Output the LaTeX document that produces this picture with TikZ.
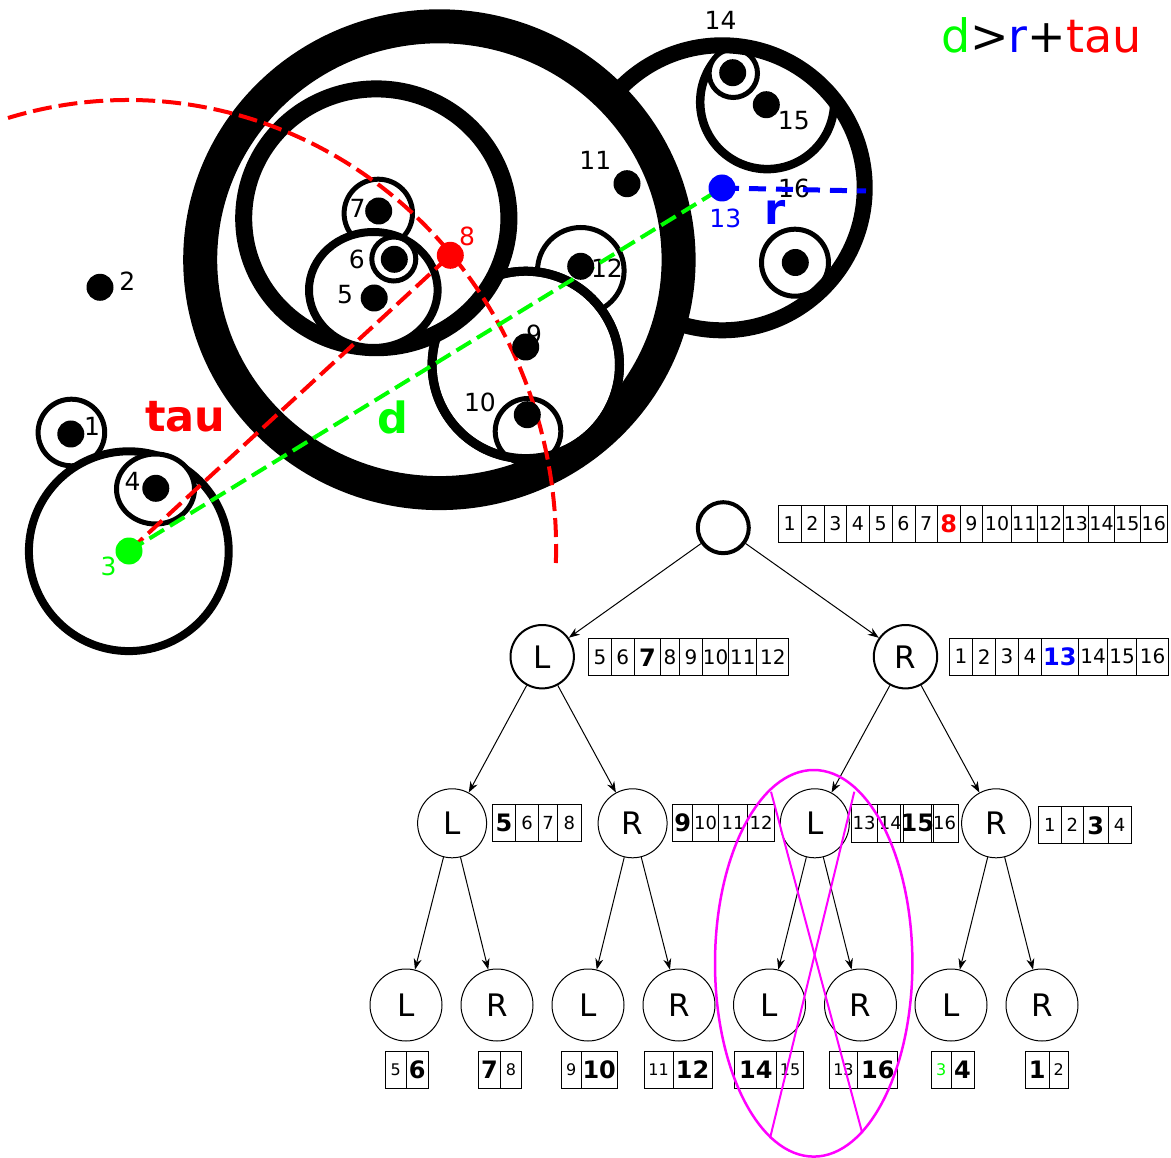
\documentclass[tikz,border=0pt]{standalone}
\usepackage{fontspec}
\setmainfont{DejaVu Sans}
\usetikzlibrary{arrows.meta}
\definecolor{pmag}{RGB}{255,0,255}
\definecolor{pgreen}{RGB}{0,255,0}
\newcommand\bd[1]{{\fontsize{24}{24}\selectfont\bfseries #1}}
\newcommand\cellarr[5]{%
  \foreach \xa/\xb/\txt [count=\ci] in {#5}{%
    \node[cell, font=\fontsize{#4}{#4}\selectfont, minimum width={(\xb-\xa)*1pt}, minimum height={#3*1pt}] (#1-\ci) at ({(\xa+\xb)/2},#2) {\txt};
  }%
}
\begin{document}
\begin{tikzpicture}[x=1pt,y=-1pt,
  lwfive/.style={line width=5pt},
  blob/.style={circle, fill=black, minimum size=27pt, inner sep=0pt},
  num/.style={inner sep=0pt, font=\fontsize{25}{25}\selectfont},
  bigtxt/.style={inner sep=0pt, font=\fontsize{43}{43}\selectfont\bfseries},
  tauline/.style={red, line width=4pt, dash pattern=on 19pt off 7pt},
  dline/.style={pgreen, line width=4pt, dash pattern=on 17pt off 7pt},
  rline/.style={blue, line width=5pt, dash pattern=on 17pt off 10pt},
  cell/.style={draw, inner sep=0pt, outer sep=0pt, line width=1pt},
  tn/.style={circle, draw, inner sep=0pt, font=\fontsize{31}{31}\selectfont},
  tedge/.style={-{Stealth[length=11pt,width=8pt]}, line width=1pt},
  mag/.style={pmag, line width=2.5pt}]
\useasboundingbox (0,0) rectangle (1171,1158);

% ---------- lower-left cluster ----------
\draw[lwfive, fill=white] (71.4,432.5) circle[radius=33.3];
\draw[line width=8pt, fill=white] (128.8,551.2) circle[radius=99.9];
\draw[lwfive, fill=white] (155.5,489) ellipse[x radius=39, y radius=35];

% ---------- right cluster ----------
\fill[white] (722.2,187.8) circle[radius=150];
\begin{scope}
  \clip (722.2,187.8) circle[radius=142.5];
  \draw[line width=8.5pt, fill=white] (767.2,102.1) circle[radius=67];
\end{scope}
\draw[lwfive, fill=white] (733.3,73.3) circle[radius=24.2];
\draw[lwfive, fill=white] (795,262.7) circle[radius=33.5];
\draw[line width=16pt] (722.2,187.8) circle[radius=142.5];

% ---------- big outer ring ----------
\draw[line width=34pt, fill=white] (439.4,259.7) ellipse[x radius=239.2, y radius=233.4];
\draw[lwfive, fill=white] (580.8,270.8) circle[radius=43.3];
\draw[line width=9pt, fill=white] (525.8,364.9) circle[radius=93.7];
\draw[lwfive, fill=white] (528,431.3) circle[radius=32.8];
\draw[line width=9pt] (525.8,364.9) circle[radius=93.7];

% ---------- inner ring ----------
\draw[line width=17pt, fill=white] (376.3,218.3) ellipse[x radius=132.6, y radius=129.4];
\draw[lwfive, fill=white] (378.3,213.4) circle[radius=34.2];
\begin{scope}
  \clip (376.3,218.3) ellipse[x radius=141, y radius=138];
  \draw[line width=8pt, fill=white] (373.3,290) ellipse[x radius=64.3, y radius=58];
\end{scope}
\draw[lwfive, fill=white] (393.8,259) circle[radius=22];

% ---------- labels ----------
\node[num] (l1) at (92,426) {1};
\node[num] (l2) at (127.3,281) {2};
\node[num, text=pgreen] (l3) at (108.7,566.7) {3};
\node[num] (l4) at (132.6,481.3) {4};
\node[num] (l5) at (345,295) {5};
\node[num] (l6) at (356.7,259.2) {6};
\node[num] (l7) at (357.5,208.8) {7};
\node[num, text=red] (l8) at (467,236.3) {8};
\node[num] (l9) at (534,334.7) {9};
\node[num] (l10) at (480,402.5) {10};
\node[num] (l11) at (595.3,160.8) {11};
\node[num] (l12) at (607,267.8) {12};
\node[num, text=blue] (l13) at (725.3,218.3) {13};
\node[num] (l14) at (720.5,20.8) {14};
\node[num] (l15) at (793.8,120.8) {15};
\node[num] (l16) at (794,188) {16};

\node[bigtxt, text=red] (tau) at (185.2,417.2) {tau};
\node[bigtxt, text=pgreen] (dtxt) at (393,417.5) {d};
\node[bigtxt, text=blue] (rtxt) at (775.5,212.5) {r};

% ---------- dashed measures ----------
\coordinate (c3) at (129,551);
\coordinate (c8) at (450.3,255.3);
\coordinate (c13) at (722,188);
\coordinate (rEnd) at (866,191);
\coordinate (tauA) at (8,118);
\draw[tauline] (tauA) arc[start angle=-106.3, end angle=2.2, x radius=428, y radius=448];
\draw[tauline] (c3) -- (c8);
\draw[dline] (c3) -- (c13);
\draw[rline] (c13) -- (rEnd);

% ---------- dots ----------
\node[blob] (d1) at (70.8,434) {};
\node[blob] (d2) at (100,287.3) {};
\node[blob, fill=pgreen] (d3) at (c3) {};
\node[blob] (d4) at (155.8,488.3) {};
\node[blob] (d5) at (374.2,298) {};
\node[blob] (d6) at (394.3,259.3) {};
\node[blob] (d7) at (378.7,211) {};
\node[blob, fill=red] (d8) at (c8) {};
\node[blob] (d9) at (525.7,347) {};
\node[blob] (d10) at (527.3,414.7) {};
\node[blob] (d11) at (627,183.7) {};
\node[blob] (d12) at (580.7,266.3) {};
\node[blob, fill=blue] (d13) at (c13) {};
\node[blob] (d14) at (732.7,72.7) {};
\node[blob] (d15) at (766.3,104.7) {};
\node[blob] (d16) at (795.3,262.5) {};

% ---------- title ----------
\node[anchor=base west, inner sep=0pt, font=\fontsize{46}{46}\selectfont] (title) at (941,52.7)
  {\textcolor{pgreen}{d}>\textcolor{blue}{r}+\textcolor{red}{tau}};

% ---------- tree ----------
\node[tn, line width=4pt, minimum size=51pt] (root) at (723.3,527.7) {};
\node[tn, line width=2pt, minimum size=63.4pt] (a) at (542.2,656.7) {L};
\node[tn, line width=2pt, minimum size=63.4pt] (b) at (905.5,656.7) {R};
\node[tn, line width=1pt, minimum size=69pt] (aa) at (452.1,823.3) {L};
\node[tn, line width=1pt, minimum size=69pt] (ab) at (632.6,823.3) {R};
\node[tn, line width=1pt, minimum size=69pt] (ba) at (814.8,823.3) {L};
\node[tn, line width=1pt, minimum size=69pt] (bb) at (996.1,823.3) {R};
\node[tn, line width=1pt, minimum size=72pt] (aaa) at (406,1005) {L};
\node[tn, line width=1pt, minimum size=72pt] (aab) at (497,1005) {R};
\node[tn, line width=1pt, minimum size=72pt] (aba) at (588,1005) {L};
\node[tn, line width=1pt, minimum size=72pt] (abb) at (679,1005) {R};
\node[tn, line width=1pt, minimum size=72pt] (baa) at (769.5,1005) {L};
\node[tn, line width=1pt, minimum size=72pt] (bab) at (860.5,1005) {R};
\node[tn, line width=1pt, minimum size=72pt] (bba) at (951,1005) {L};
\node[tn, line width=1pt, minimum size=72pt] (bbb) at (1042,1005) {R};

\draw[tedge] (root) -- (a);
\draw[tedge] (root) -- (b);
\draw[tedge] (a) -- (aa);
\draw[tedge] (a) -- (ab);
\draw[tedge] (b) -- (ba);
\draw[tedge] (b) -- (bb);
\draw[tedge] (aa) -- (aaa);
\draw[tedge] (aa) -- (aab);
\draw[tedge] (ab) -- (aba);
\draw[tedge] (ab) -- (abb);
\draw[tedge] (ba) -- (baa);
\draw[tedge] (ba) -- (bab);
\draw[tedge] (bb) -- (bba);
\draw[tedge] (bb) -- (bbb);

% ---------- arrays ----------
\cellarr{rootarr}{523.8}{37}{19}{778.3/801/1, 801/824/2, 824/846.7/3, 846.7/869.3/4, 869.3/892/5, 892/915/6, 915/937.3/7, 937.3/960/{\bd{\color{red}8}}, 960/982.7/9, 982.7/1011.3/10, 1011.3/1037.3/11, 1037.3/1063/12, 1063/1088.7/13, 1088.7/1114.3/14, 1114.3/1140.3/15, 1140.3/1167.3/16}
\cellarr{aarr}{657.3}{36.7}{20}{588.6/611.3/5, 611.3/634.4/6, 634.4/660.5/{\bd{7}}, 660.5/679.7/8, 679.7/702.4/9, 702.4/728.9/10, 728.9/756.7/11, 756.7/788.8/12}
\cellarr{barr}{656.7}{36.7}{20}{949.3/972.8/1, 972.8/995.5/2, 995.5/1018.6/3, 1018.6/1041.3/4, 1041.3/1078.5/{\bd{\color{blue}13}}, 1078.5/1107.6/14, 1107.6/1136.7/15, 1136.7/1168.4/16}
\cellarr{aaarr}{823.3}{36.7}{18}{492.4/515.5/{\bd{5}}, 515.5/538.6/6, 538.6/557.8/7, 557.8/581/8}
\cellarr{abarr}{823}{37.4}{18}{672.9/692.5/{\bd{9}}, 692.5/718.6/10, 718.6/747.6/11, 747.6/774.6/12}
\cellarr{baarr}{823.3}{38}{18}{851.3/877/13, 877/903.5/14, 903.5/931/{\bd{15}}, 931/958/16}
\cellarr{bbarr}{825.3}{37.3}{18}{1038.2/1061.3/1, 1061.3/1083.4/2, 1083.4/1108/{\bd{3}}, 1108/1131.1/4}
\cellarr{q1}{1070}{36.6}{16}{385.6/406/5, 406/428.5/{\bd{6}}}
\cellarr{q2}{1070}{36.6}{16}{478.3/500.8/{\bd{7}}, 500.8/521.2/8}
\cellarr{q3}{1070}{36.6}{16}{561/581.4/9, 581.4/617/{\bd{10}}}
\cellarr{q4}{1070}{36.6}{16}{644.2/673/11, 673/712.3/{\bd{12}}}
\cellarr{q5}{1070}{36.6}{16}{734.8/776.7/{\bd{14}}, 776.7/803.4/15}
\cellarr{q6}{1070}{36.6}{16}{829/857.9/13, 857.9/897.6/{\bd{16}}}
\cellarr{q7}{1070}{36.6}{16}{931.2/951/{\color{pgreen}3}, 951/974.1/{\bd{4}}}
\cellarr{q8}{1070}{36.6}{16}{1025.4/1049/{\bd{1}}, 1049/1068.3/2}

% ---------- magenta mark ----------
\coordinate (mc) at (813.7,963.3);
\coordinate (x1a) at (771,791.7);
\coordinate (x1b) at (862.3,1133.3);
\coordinate (x2a) at (854.3,791.7);
\coordinate (x2b) at (770,1138.3);
\draw[mag] (mc) ellipse[x radius=98.7, y radius=193.3];
\draw[mag, line width=2pt] (x1a) -- (x1b);
\draw[mag, line width=2pt] (x2a) -- (x2b);
\end{tikzpicture}
\end{document}
